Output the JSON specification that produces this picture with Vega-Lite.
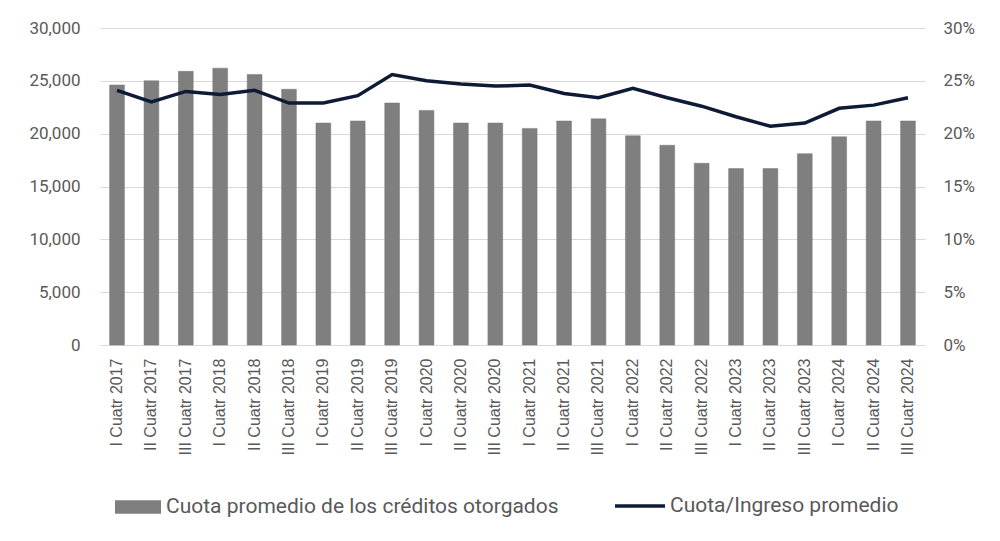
{
  "$schema": "https://vega.github.io/schema/vega-lite/v6.json",
  "width": 825,
  "height": 317,
  "autosize": {"type": "none"},
  "padding": {"left": 100, "top": 28, "right": 75, "bottom": 196},
  "background": "white",
  "data": {
    "values": [
      {"periodo": "I Cuatr 2017", "cuota": 24600, "ratio": 0.241},
      {"periodo": "II Cuatr 2017", "cuota": 25000, "ratio": 0.230},
      {"periodo": "III Cuatr 2017", "cuota": 25900, "ratio": 0.240},
      {"periodo": "I Cuatr 2018", "cuota": 26200, "ratio": 0.237},
      {"periodo": "II Cuatr 2018", "cuota": 25600, "ratio": 0.241},
      {"periodo": "III Cuatr 2018", "cuota": 24200, "ratio": 0.229},
      {"periodo": "I Cuatr 2019", "cuota": 21000, "ratio": 0.229},
      {"periodo": "II Cuatr 2019", "cuota": 21200, "ratio": 0.236},
      {"periodo": "III Cuatr 2019", "cuota": 22900, "ratio": 0.256},
      {"periodo": "I Cuatr 2020", "cuota": 22200, "ratio": 0.250},
      {"periodo": "II Cuatr 2020", "cuota": 21000, "ratio": 0.247},
      {"periodo": "III Cuatr 2020", "cuota": 21000, "ratio": 0.245},
      {"periodo": "I Cuatr 2021", "cuota": 20500, "ratio": 0.246},
      {"periodo": "II Cuatr 2021", "cuota": 21200, "ratio": 0.238},
      {"periodo": "III Cuatr 2021", "cuota": 21400, "ratio": 0.234},
      {"periodo": "I Cuatr 2022", "cuota": 19800, "ratio": 0.243},
      {"periodo": "II Cuatr 2022", "cuota": 18900, "ratio": 0.234},
      {"periodo": "III Cuatr 2022", "cuota": 17200, "ratio": 0.226},
      {"periodo": "I Cuatr 2023", "cuota": 16700, "ratio": 0.216},
      {"periodo": "II Cuatr 2023", "cuota": 16700, "ratio": 0.207},
      {"periodo": "III Cuatr 2023", "cuota": 18100, "ratio": 0.210},
      {"periodo": "I Cuatr 2024", "cuota": 19700, "ratio": 0.224},
      {"periodo": "II Cuatr 2024", "cuota": 21200, "ratio": 0.227},
      {"periodo": "III Cuatr 2024", "cuota": 21200, "ratio": 0.234}
    ]
  },
  "encoding": {
    "x": {
      "field": "periodo",
      "type": "nominal",
      "sort": null,
      "title": null,
      "scale": {"paddingInner": 0.57, "paddingOuter": 0.28},
      "axis": {
        "labelAngle": -90,
        "labelFont": "Liberation Sans",
        "labelFontSize": 16,
        "labelColor": "#595959",
        "labelPadding": 13,
        "ticks": false,
        "domainColor": "#d9d9d9",
        "grid": false
      }
    }
  },
  "layer": [
    {
      "mark": {"type": "bar", "color": "#7f7f7f", "stroke": "#767676", "strokeWidth": 0.5},
      "encoding": {
        "y": {
          "field": "cuota",
          "type": "quantitative",
          "title": null,
          "scale": {"domain": [0, 30000]},
          "axis": {
            "values": [0, 5000, 10000, 15000, 20000, 25000, 30000],
            "format": ",.0f",
            "labelFont": "Roboto",
            "labelFontSize": 17,
            "labelColor": "#595959",
            "labelPadding": 20,
            "ticks": false,
            "domain": false,
            "gridColor": "#d9d9d9"
          }
        },
        "fill": {
          "datum": "Cuota promedio de los créditos otorgados",
          "type": "nominal",
          "scale": {"range": ["#7f7f7f"]},
          "legend": {
            "orient": "none",
            "legendX": 15,
            "legendY": 456,
            "symbolType": "M-1,-0.29H1V0.29H-1Z",
            "symbolSize": 2116,
            "symbolStrokeWidth": 0,
            "labelFont": "Roboto",
            "labelFontSize": 21,
            "labelColor": "#595959",
            "labelOffset": 5,
            "labelLimit": 600,
            "title": null
          }
        }
      }
    },
    {
      "mark": {"type": "line", "strokeWidth": 3.5, "color": "#0e1b36"},
      "encoding": {
        "y": {
          "field": "ratio",
          "type": "quantitative",
          "title": null,
          "scale": {"domain": [0, 0.3]},
          "axis": {
            "orient": "right",
            "values": [0, 0.05, 0.1, 0.15, 0.2, 0.25, 0.3],
            "format": ".0%",
            "labelFont": "Roboto",
            "labelFontSize": 17,
            "labelColor": "#595959",
            "labelPadding": 18,
            "ticks": false,
            "domain": false,
            "grid": false
          }
        },
        "stroke": {
          "datum": "Cuota/Ingreso promedio",
          "type": "nominal",
          "scale": {"range": ["#0e1b36"]},
          "legend": {
            "orient": "none",
            "legendX": 513,
            "legendY": 451,
            "symbolType": "stroke",
            "symbolSize": 2500,
            "symbolStrokeWidth": 3.5,
            "labelFont": "Roboto",
            "labelFontSize": 21,
            "labelColor": "#595959",
            "labelOffset": 3,
            "labelLimit": 600,
            "title": null
          }
        }
      }
    }
  ],
  "resolve": {"scale": {"y": "independent", "fill": "independent", "stroke": "independent"}},
  "config": {"view": {"stroke": null}}
}
